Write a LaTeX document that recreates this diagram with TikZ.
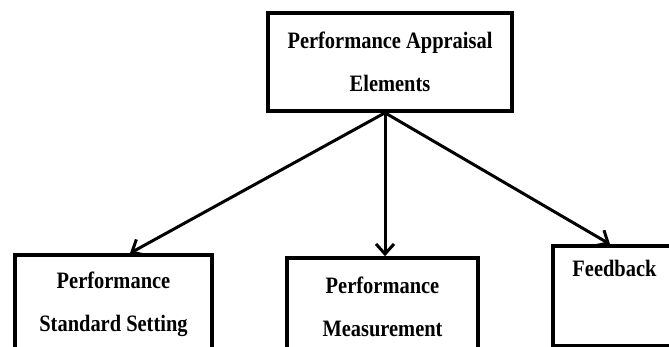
\documentclass[tikz,border=0pt]{standalone}
\usepackage{fontspec}
\setmainfont[FakeStretch=0.87]{Liberation Serif}
\usepackage{tikz}
\usetikzlibrary{arrows.meta}
\usetikzlibrary{calc}
\tikzset{box/.style={draw=black,line width=3.6pt,rectangle,align=center,font=\fontsize{23.5}{43}\selectfont\bfseries}}
\begin{document}
\begin{tikzpicture}[line join=miter,>={Straight Barb[length=10pt,width=18pt,line width=3pt]},x=1pt,y=-1pt]
		\useasboundingbox (0,0) rectangle (669,347);
		\node[box,minimum width=244,minimum height=98] (appraisal) at (390,62) {Performance Appraisal\\Elements};
		\node[box,minimum width=197,minimum height=98] (setting) at (113.5,304) {Performance\\Standard Setting};
		\node[box,minimum width=191,minimum height=98] (measure) at (382.5,307) {Performance\\Measurement};
		\node[box,minimum width=123,minimum height=100,label={[anchor=north,yshift=-12pt,font=\fontsize{23.5}{43}\selectfont\bfseries]north:Feedback}] (feedback) at (614.5,296) {};
		\coordinate (hub) at ($(appraisal.south)+(-5,0)$);
		\draw[->,line width=3pt] (hub) -- ($(setting.north)+(16.5,0)$);
		\draw[->,line width=3pt] (hub) -- (hub |- measure.north);
		\draw[->,line width=3pt] (hub) -- ($(feedback.north)+(-4.5,0)$);
		
		\end{tikzpicture}
\end{document}
